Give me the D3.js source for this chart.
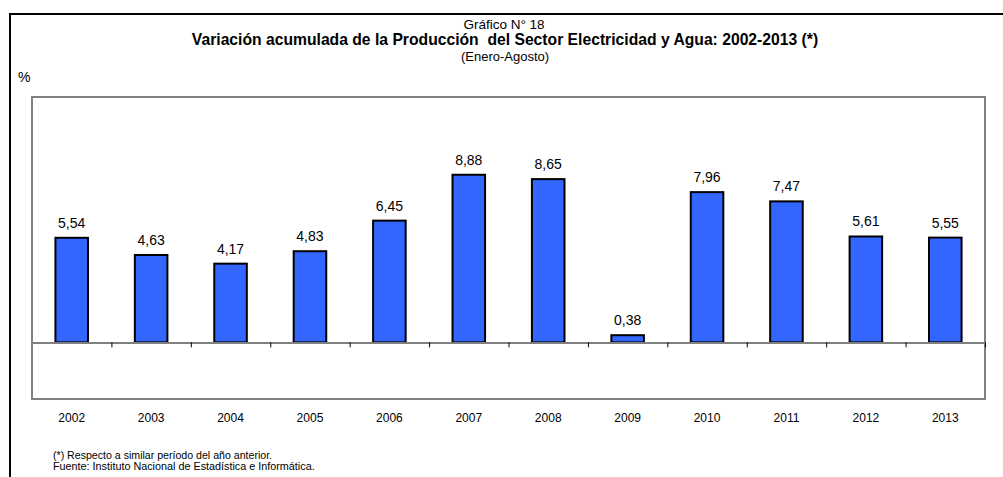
<!DOCTYPE html>
<html>
<head>
<meta charset="utf-8">
<script src="https://cdn.jsdelivr.net/npm/d3@7"></script>
<style>
  body { margin: 0; background: #fff; }
  svg { display: block; }
  text { font-family: "Liberation Sans", Arial, sans-serif; }
</style>
</head>
<body>
<svg width="1003" height="477"></svg>
<script>
// data
var years = ["2002", "2003", "2004", "2005", "2006", "2007", "2008", "2009", "2010", "2011", "2012", "2013"];
var values = [5.54, 4.63, 4.17, 4.83, 6.45, 8.88, 8.65, 0.38, 7.96, 7.47, 5.61, 5.55];
var valueLabels = ["5,54", "4,63", "4,17", "4,83", "6,45", "8,88", "8,65", "0,38", "7,96", "7,47", "5,61", "5,55"];
var yDomain = [-3, 13];

var svg = d3.select("svg");

// outer frame (top and left lines only)
svg.append("path")
  .attr("d", "M10,477 L10,14 L1003,14")
  .attr("fill", "none")
  .attr("stroke", "#000")
  .attr("stroke-width", 2);

// titles
svg.append("text")
  .attr("x", 504).attr("y", 29)
  .attr("text-anchor", "middle")
  .style("font-size", "13.5px")
  .text("Gráfico N° 18");

svg.append("text")
  .attr("x", 505).attr("y", 45)
  .attr("text-anchor", "middle")
  .style("font-size", "15.7px")
  .style("font-weight", "bold")
  .style("white-space", "pre")
  .text("Variación acumulada de la Producción  del Sector Electricidad y Agua: 2002-2013 (*)");

svg.append("text")
  .attr("x", 505).attr("y", 61)
  .attr("text-anchor", "middle")
  .style("font-size", "13px")
  .text("(Enero-Agosto)");

svg.append("text")
  .attr("x", 18).attr("y", 82)
  .style("font-size", "14px")
  .text("%");

// plot area
var plotLeft = 32, plotRight = 985, plotTop = 97, plotBottom = 399;

var x = d3.scaleBand()
  .domain(years)
  .range([plotLeft, plotRight])
  .padding(0);

var y = d3.scaleLinear()
  .domain(yDomain)
  .range([plotBottom, plotTop]);

var barW = x.bandwidth() * 0.41;

// plot border
svg.append("rect")
  .attr("x", plotLeft).attr("y", plotTop)
  .attr("width", plotRight - plotLeft).attr("height", plotBottom - plotTop)
  .attr("fill", "#fff")
  .attr("stroke", "#808080")
  .attr("stroke-width", 2);

// bars
svg.selectAll("rect.bar")
  .data(values)
  .enter().append("rect")
  .attr("class", "bar")
  .attr("x", function(d, i) { return x(years[i]) + (x.bandwidth() - barW) / 2; })
  .attr("y", function(d) { return y(d); })
  .attr("width", barW)
  .attr("height", function(d) { return y(0) - y(d); })
  .attr("fill", "#3366ff")
  .attr("stroke", "#000")
  .attr("stroke-width", 2);

// zero line with boundary ticks
var bounds = d3.scaleLinear().domain([0, years.length]).range([plotLeft, plotRight]);
var zeroAxis = svg.append("g")
  .attr("transform", "translate(0," + y(0) + ")")
  .call(d3.axisBottom(bounds).tickValues(d3.range(1, years.length + 1)).tickSize(5).tickSizeOuter(0).tickFormat(""));
zeroAxis.select(".domain").attr("stroke", "#808080").attr("stroke-width", 2);
zeroAxis.selectAll(".tick line").attr("stroke", "#000").attr("stroke-width", 1);

// value labels
svg.selectAll("text.val")
  .data(values)
  .enter().append("text")
  .attr("class", "val")
  .attr("x", function(d, i) { return x(years[i]) + x.bandwidth() / 2; })
  .attr("y", function(d) { return y(d) - 10; })
  .attr("text-anchor", "middle")
  .style("font-size", "14px")
  .text(function(d, i) { return valueLabels[i]; });

// year labels
var xAxis = svg.append("g")
  .attr("transform", "translate(0," + plotBottom + ")")
  .call(d3.axisBottom(x).tickSize(0).tickPadding(14));
xAxis.select(".domain").remove();
xAxis.selectAll("text")
  .style("font-family", "Liberation Sans, Arial, sans-serif")
  .style("font-size", "12px")
  .attr("fill", "#000");

// footnotes
svg.append("text")
  .attr("x", 53).attr("y", 459)
  .style("font-size", "10.6px")
  .text("(*) Respecto a similar período del año anterior.");

svg.append("text")
  .attr("x", 53).attr("y", 470)
  .style("font-size", "10.8px")
  .text("Fuente: Instituto Nacional de Estadística e Informática.");
</script>
</body>
</html>
